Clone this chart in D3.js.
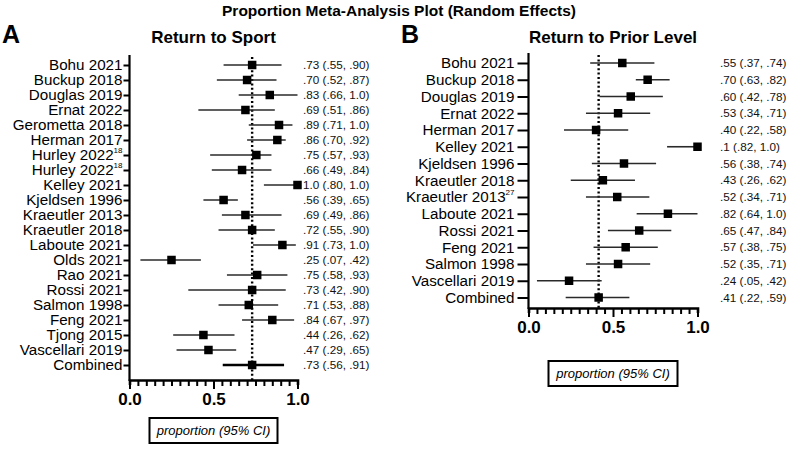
<!DOCTYPE html>
<html>
<head>
<meta charset="utf-8">
<script src="https://cdn.jsdelivr.net/npm/d3@7"></script>
<style>
  html, body { margin: 0; padding: 0; background: #fff; }
  svg { display: block; font-family: "Liberation Sans", Arial, Helvetica, sans-serif; }
</style>
</head>
<body>
<svg id="chart" width="798" height="449"></svg>
<script>
// ---------- Data: Return to Sport (panel A) ----------
const rtsNames = ["Bohu 2021","Buckup 2018","Douglas 2019","Ernat 2022","Gerometta 2018","Herman 2017","Hurley 2022","Hurley 2022","Kelley 2021","Kjeldsen 1996","Kraeutler 2013","Kraeutler 2018","Laboute 2021","Olds 2021","Rao 2021","Rossi 2021","Salmon 1998","Feng 2021","Tjong 2015","Vascellari 2019","Combined"];
const rtsSup   = ["","","","","","","18","18","","","","","","","","","","","","",""];
const rtsEst   = [0.73,0.70,0.835,0.69,0.89,0.88,0.755,0.67,1.0,0.56,0.69,0.73,0.91,0.25,0.76,0.73,0.71,0.85,0.44,0.47,0.73];
const rtsLo    = [0.56,0.52,0.65,0.41,0.71,0.70,0.48,0.49,0.80,0.44,0.55,0.53,0.735,0.065,0.58,0.35,0.53,0.67,0.26,0.28,0.555];
const rtsHi    = [0.905,0.875,1.0,0.865,0.97,0.93,0.845,0.845,1.0,0.645,0.905,0.865,0.99,0.425,0.94,0.93,0.885,0.98,0.625,0.635,0.92];
const rtsText  = [".73 (.55, .90)",".70 (.52, .87)",".83 (.66, 1.0)",".69 (.51, .86)",".89 (.71, 1.0)",".86 (.70, .92)",".75 (.57, .93)",".66 (.49, .84)","1.0 (.80, 1.0)",".56 (.39, .65)",".69 (.49, .86)",".72 (.55, .90)",".91 (.73, 1.0)",".25 (.07, .42)",".75 (.58, .93)",".73 (.42, .90)",".71 (.53, .88)",".84 (.67, .97)",".44 (.26, .62)",".47 (.29, .65)",".73 (.56, .91)"];

// ---------- Data: Return to Prior Level (panel B) ----------
const rtpNames = ["Bohu 2021","Buckup 2018","Douglas 2019","Ernat 2022","Herman 2017","Kelley 2021","Kjeldsen 1996","Kraeutler 2018","Kraeutler 2013","Laboute 2021","Rossi 2021","Feng 2021","Salmon 1998","Vascellari 2019","Combined"];
const rtpSup   = ["","","","","","","","","27","","","","","",""];
const rtpEst   = [0.555,0.705,0.605,0.53,0.40,1.0,0.565,0.44,0.525,0.825,0.655,0.575,0.53,0.24,0.415];
const rtpLo    = [0.365,0.635,0.42,0.34,0.21,0.82,0.375,0.25,0.34,0.64,0.47,0.385,0.34,0.05,0.22];
const rtpHi    = [0.745,0.835,0.795,0.72,0.59,1.0,0.755,0.63,0.715,1.0,0.845,0.765,0.72,0.433,0.597];
const rtpText  = [".55 (.37, .74)",".70 (.63, .82)",".60 (.42, .78)",".53 (.34, .71)",".40 (.22, .58)",".1 (.82, 1.0)",".56 (.38, .74)",".43 (.26, .62)",".52 (.34, .71)",".82 (.64, 1.0)",".65 (.47, .84)",".57 (.38, .75)",".52 (.35, .71)",".24 (.05, .42)",".41 (.22, .59)"];

const xTicks = d3.range(0, 21).map(i => i * 0.05);
const xTickLabels = {0: "0.0", 10: "0.5", 20: "1.0"};

const svg = d3.select("#chart");

svg.append("text")
  .attr("x", 399).attr("y", 16)
  .attr("text-anchor", "middle")
  .attr("font-weight", "bold").attr("font-size", 15.5)
  .text("Proportion Meta-Analysis Plot (Random Effects)");

function drawPanel(cfg) {
  const n = cfg.names.length;
  const idx = d3.range(n);
  const g = svg.append("g");

  const x = d3.scaleLinear().domain([0, 1]).range([cfg.x0, cfg.x1]);
  const y = d3.scalePoint().domain(idx).range([cfg.yFirst, cfg.yLast]);

  // panel letter & title
  g.append("text").attr("x", cfg.letterX).attr("y", 43)
    .attr("font-weight", "bold").attr("font-size", 25).text(cfg.letter);
  g.append("text").attr("x", (cfg.x0 + cfg.x1) / 2).attr("y", 43)
    .attr("text-anchor", "middle").attr("font-weight", "bold").attr("font-size", 17)
    .text(cfg.title);

  // y axis
  const yAxis = d3.axisLeft(y)
    .tickSize(cfg.tickLen).tickPadding(cfg.tickPad).tickSizeOuter(0)
    .tickFormat(i => cfg.names[i]);
  const ya = g.append("g").attr("transform", `translate(${cfg.x0},0)`).call(yAxis);
  ya.select(".domain").remove();
  ya.selectAll(".tick line").attr("stroke", "#000").attr("stroke-width", 2);
  ya.selectAll(".tick text")
    .attr("font-size", 15.2).attr("fill", "#000")
    .attr("font-family", "Liberation Sans, Arial, sans-serif")
    .each(function(i) {
      if (cfg.sup[i]) {
        d3.select(this).append("tspan")
          .attr("font-size", 8).attr("dy", "-0.9em")
          .text(cfg.sup[i]);
      }
    });
  g.append("line")
    .attr("x1", cfg.x0).attr("x2", cfg.x0)
    .attr("y1", cfg.axisTop).attr("y2", cfg.axisBottom + 1)
    .attr("stroke", "#000").attr("stroke-width", 2.2);

  // x axis
  const xAxis = d3.axisBottom(x)
    .tickValues(xTicks).tickSizeOuter(0).tickSize(5).tickPadding(4)
    .tickFormat((d, i) => xTickLabels[i] || "");
  const xa = g.append("g").attr("transform", `translate(0,${cfg.axisBottom})`).call(xAxis);
  xa.select(".domain").attr("stroke", "#000").attr("stroke-width", 2.6);
  xa.selectAll(".tick line").attr("stroke", "#000").attr("stroke-width", 2)
    .attr("y2", (d, i) => (i % 10 === 0 ? 9 : 6));
  xa.selectAll(".tick text")
    .attr("font-size", 17).attr("font-weight", "bold").attr("fill", "#000")
    .attr("font-family", "Liberation Sans, Arial, sans-serif")
    .attr("y", 13);

  // reference dotted line at combined estimate
  g.append("line")
    .attr("x1", x(cfg.est[n - 1])).attr("x2", x(cfg.est[n - 1]))
    .attr("y1", cfg.axisTop + 2).attr("y2", cfg.axisBottom)
    .attr("stroke", "#000").attr("stroke-width", 2.4)
    .attr("stroke-dasharray", "2,2.4");

  // CI lines
  g.selectAll("line.ci").data(idx).join("line")
    .attr("class", "ci")
    .attr("x1", i => x(cfg.lo[i])).attr("x2", i => x(cfg.hi[i]))
    .attr("y1", i => y(i)).attr("y2", i => y(i))
    .attr("stroke", i => (i === n - 1 && cfg.boldCombined) ? "#000" : "#2a2a2a")
    .attr("stroke-width", i => (i === n - 1 && cfg.boldCombined) ? 2.6 : 1.6);

  // markers
  const s = 8.5;
  g.selectAll("rect.pt").data(idx).join("rect")
    .attr("class", "pt")
    .attr("x", i => x(cfg.est[i]) - s / 2).attr("y", i => y(i) - s / 2)
    .attr("width", s).attr("height", s).attr("fill", "#000");

  // value labels
  g.selectAll("text.val").data(idx).join("text")
    .attr("class", "val")
    .attr("x", cfg.valX).attr("y", i => y(i) + 4)
    .attr("font-size", 11.7).attr("fill", "#111")
    .text(i => cfg.text[i]);

  // x axis label box
  const bw = cfg.boxW, bh = 25;
  const bx = (cfg.x0 + cfg.x1) / 2 - bw / 2;
  g.append("rect").attr("x", bx).attr("y", cfg.boxY)
    .attr("width", bw).attr("height", bh)
    .attr("fill", "#fff").attr("stroke", "#000").attr("stroke-width", 2);
  g.append("text").attr("x", (cfg.x0 + cfg.x1) / 2).attr("y", cfg.boxY + bh / 2 + 4.5)
    .attr("text-anchor", "middle").attr("font-style", "italic").attr("font-size", 13)
    .text("proportion (95% CI)");
}

drawPanel({
  letter: "A", letterX: 2, title: "Return to Sport",
  names: rtsNames, sup: rtsSup, est: rtsEst, lo: rtsLo, hi: rtsHi, text: rtsText,
  x0: 129.5, x1: 297.5, yFirst: 65, yLast: 365, axisTop: 55, axisBottom: 380,
  tickLen: 6, tickPad: 1, valX: 303, boxY: 418, boxW: 128, boldCombined: true
});

drawPanel({
  letter: "B", letterX: 401, title: "Return to Prior Level",
  names: rtpNames, sup: rtpSup, est: rtpEst, lo: rtpLo, hi: rtpHi, text: rtpText,
  x0: 528.5, x1: 697.5, yFirst: 63, yLast: 297.5, axisTop: 53, axisBottom: 308,
  tickLen: 11, tickPad: 3, valX: 720, boxY: 361, boxW: 129, boldCombined: false
});
</script>
</body>
</html>
